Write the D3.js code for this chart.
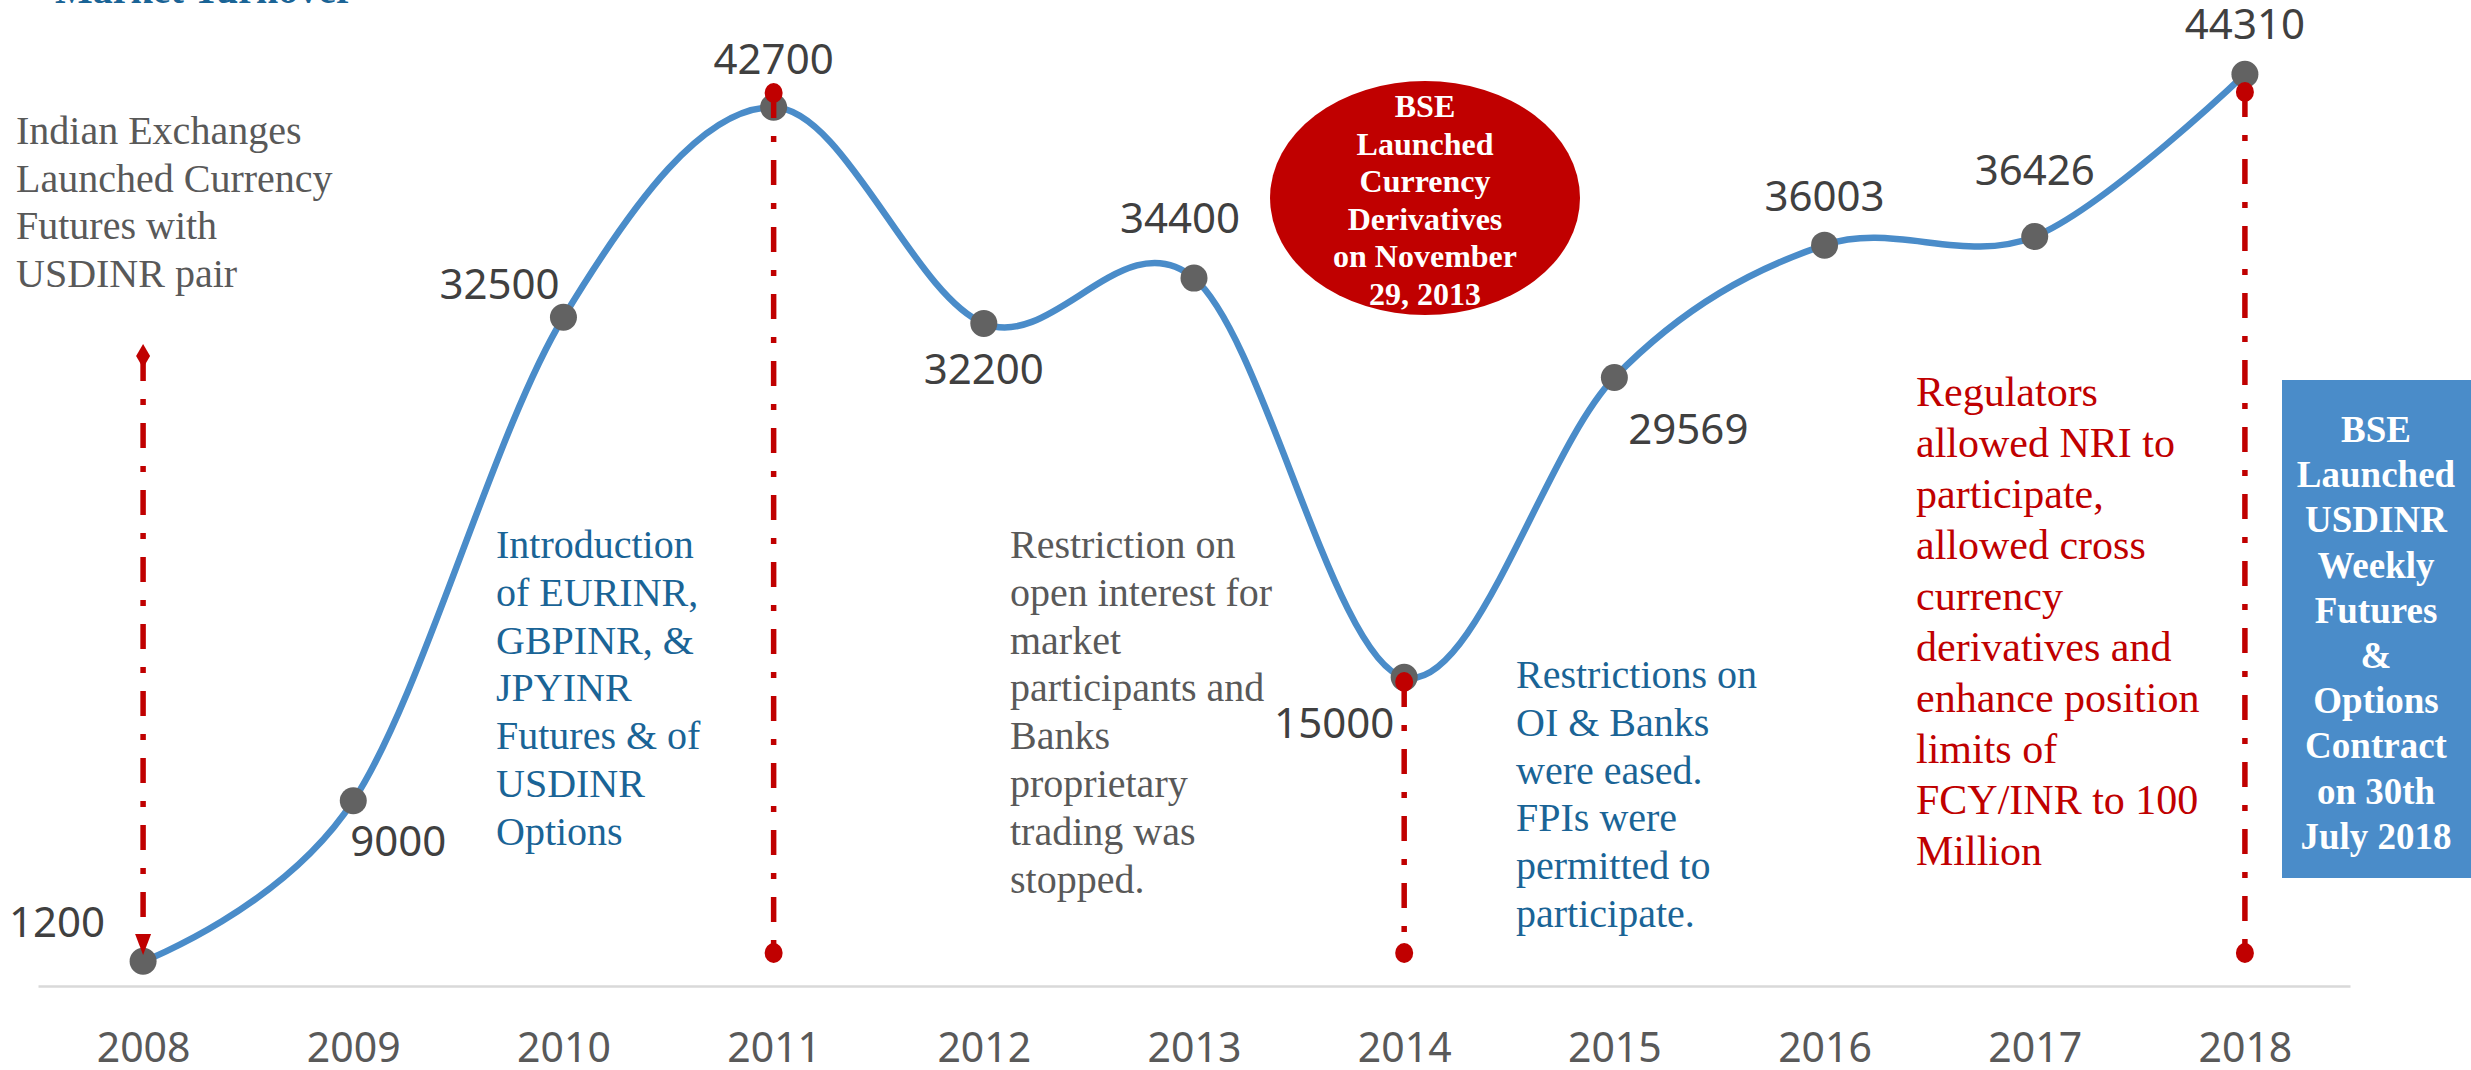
<!DOCTYPE html>
<html lang="en">
<head>
<meta charset="utf-8" />
<title>Market Turnover</title>
<style>
  body { margin: 0; background: #fff; }
  svg { display: block; }
</style>
</head>
<body>
<div id="chart"></div>
<script src="https://d3js.org/d3.v7.min.js"></script>
<script>
// data
var years = ["2008", "2009", "2010", "2011", "2012", "2013", "2014", "2015", "2016", "2017", "2018"];
var turnover = [1200, 9000, 32500, 42700, 32200, 34400, 15000, 29569, 36003, 36426, 44310];
var eventYears = ["2008", "2011", "2014", "2018"];

var notes = {
  launch: ["Indian Exchanges", "Launched Currency", "Futures with", "USDINR pair"],
  intro: ["Introduction", "of EURINR,", "GBPINR, &", "JPYINR", "Futures & of", "USDINR", "Options"],
  restrict: ["Restriction on", "open interest for", "market", "participants and", "Banks", "proprietary", "trading was", "stopped."],
  eased: ["Restrictions on", "OI & Banks", "were eased.", "FPIs were", "permitted to", "participate."],
  nri: ["Regulators", "allowed NRI to", "participate,", "allowed cross", "currency", "derivatives and", "enhance position", "limits of", "FCY/INR to 100", "Million"],
  bse2013: ["BSE", "Launched", "Currency", "Derivatives", "on November", "29, 2013"],
  bse2018: ["BSE", "Launched", "USDINR", "Weekly", "Futures", "&", "Options", "Contract", "on 30th", "July 2018"]
};

var W = 2471, H = 1070;
var red = "#c00000", blue = "#4a8cc9", darkBlue = "#1a6496", grey = "#595959";
var serif = "'Liberation Serif', 'Times New Roman', serif";
var sans = "'Noto Sans', 'Open Sans', sans-serif";

var svg = d3.select("#chart").append("svg")
  .attr("width", W).attr("height", H);

var x = d3.scalePoint().domain(years).range([38, 2350]).padding(0.5);
var y = d3.scaleLinear().domain([0, 45000]).range([986, 60]);

var rows = years.map(function (d, i) { return { year: d, value: turnover[i] }; });

// title (cut off at the top)
svg.append("text")
  .attr("x", 55).attr("y", 3)
  .attr("font-family", serif).attr("font-weight", "bold")
  .attr("font-size", 40).attr("fill", darkBlue)
  .text("Market Turnover");

// baseline + year axis
var xAxis = d3.axisBottom(x).tickSize(0).tickPadding(47);
var ax = svg.append("g").attr("transform", "translate(0," + y(0) + ")").call(xAxis);
ax.select(".domain").attr("stroke", "#d9d9d9").attr("stroke-width", 2.5);
ax.selectAll("text")
  .attr("font-family", sans).attr("font-size", 41).attr("fill", grey);

// smooth line
var line = d3.line()
  .x(function (d) { return x(d.year); })
  .y(function (d) { return y(d.value); })
  .curve(d3.curveCatmullRom.alpha(0));

svg.append("path").datum(rows)
  .attr("d", line)
  .attr("fill", "none")
  .attr("stroke", blue)
  .attr("stroke-width", 6.5);

svg.selectAll("circle.pt").data(rows).enter().append("circle")
  .attr("class", "pt")
  .attr("cx", function (d) { return x(d.year); })
  .attr("cy", function (d) { return y(d.value); })
  .attr("r", 13.5)
  .attr("fill", "#626262");

// value labels
var labelOffset = {
  "2008": [-86, -39], "2009": [45, 40], "2010": [-64, -33], "2011": [0, -48],
  "2012": [0, 46], "2013": [-14, -60], "2014": [-70, 46], "2015": [74, 52],
  "2016": [0, -49], "2017": [0, -66], "2018": [0, -50]
};
svg.selectAll("text.val").data(rows).enter().append("text")
  .attr("class", "val")
  .attr("x", function (d) { return x(d.year) + labelOffset[d.year][0]; })
  .attr("y", function (d) { return y(d.value) + labelOffset[d.year][1]; })
  .attr("dy", "0.35em")
  .attr("text-anchor", "middle")
  .attr("font-family", sans).attr("font-size", 42).attr("fill", "#404040")
  .text(function (d) { return d.value; });

// red dash-dot event lines
var dropTop = { "2008": 356, "2011": 93, "2014": 682, "2018": 92 };
var dropBottom = 953;
var drops = svg.append("g");
eventYears.forEach(function (yr) {
  var cx = x(yr);
  var bottom = yr === "2008" ? 936 : dropBottom;
  drops.append("line")
    .attr("x1", cx).attr("x2", cx)
    .attr("y1", dropTop[yr]).attr("y2", bottom)
    .attr("stroke", red).attr("stroke-width", 5.5)
    .attr("stroke-dasharray", "25,18,6,18");
  if (yr === "2008") {
    // diamond on top, arrow pointing at the point
    var t = dropTop[yr];
    drops.append("path")
      .attr("d", "M" + cx + "," + (t - 12) + "L" + (cx + 7) + "," + t +
        "L" + cx + "," + (t + 12) + "L" + (cx - 7) + "," + t + "Z")
      .attr("fill", red);
    drops.append("path")
      .attr("d", "M" + (cx - 8) + ",934L" + (cx + 8) + ",934L" + cx + ",955Z")
      .attr("fill", red);
  } else {
    drops.append("ellipse").attr("cx", cx).attr("cy", dropTop[yr])
      .attr("rx", 9).attr("ry", 10).attr("fill", red);
    drops.append("ellipse").attr("cx", cx).attr("cy", dropBottom)
      .attr("rx", 9).attr("ry", 10).attr("fill", red);
  }
});

// multi-line notes
function note(lines, px, py, lh, opts) {
  var t = svg.append("text")
    .attr("font-family", serif)
    .attr("font-size", opts.size || 40)
    .attr("font-weight", opts.bold ? "bold" : "normal")
    .attr("fill", opts.color)
    .attr("text-anchor", opts.anchor || "start");
  lines.forEach(function (s, i) {
    t.append("tspan").attr("x", px).attr("y", py + i * lh + (opts.shift || 13)).text(s);
  });
}

note(notes.launch, 16, 131, 47.7, { color: grey });
note(notes.intro, 496, 545, 47.8, { color: darkBlue });
note(notes.restrict, 1010, 545, 47.8, { color: grey });
note(notes.eased, 1516, 675, 47.8, { color: darkBlue });
note(notes.nri, 1916, 392, 51, { color: red, size: 42, shift: 14 });

// BSE 2013 bubble
svg.append("ellipse")
  .attr("cx", 1425).attr("cy", 198).attr("rx", 155).attr("ry", 117)
  .attr("fill", red);
note(notes.bse2013, 1425, 106, 37.5, { color: "#fff", size: 32, bold: true, anchor: "middle", shift: 11 });

// BSE 2018 box
svg.append("rect")
  .attr("x", 2282).attr("y", 380).attr("width", 189).attr("height", 498)
  .attr("fill", blue);
note(notes.bse2018, 2376, 430, 45.2, { color: "#fff", size: 37, bold: true, anchor: "middle", shift: 12 });
</script>
</body>
</html>
